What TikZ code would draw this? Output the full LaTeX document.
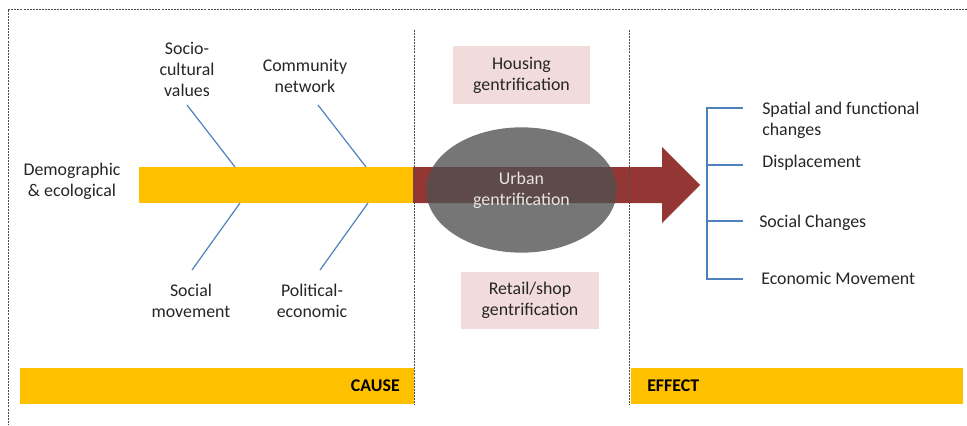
\documentclass[tikz,border=0pt]{standalone}
\usepackage{fontspec}
\setmainfont{Carlito}
\usetikzlibrary{shapes.geometric}

\definecolor{spinecol}{HTML}{FFC000}
\definecolor{arrowcol}{HTML}{943634}
\definecolor{pinkcol}{HTML}{F2DCDB}
\definecolor{bonecol}{HTML}{4F81BD}
\definecolor{txtcol}{HTML}{262626}
\definecolor{urbancol}{HTML}{505050}

\begin{document}
\begin{tikzpicture}[x=0.75pt, y=-0.75pt,
  font=\fontsize{13.4}{15.75}\selectfont,
  lbl/.style={align=center, text=txtcol, inner sep=0pt},
  eff/.style={align=left, anchor=west, text=txtcol, inner sep=0pt},
  bone/.style={draw=bonecol, line width=0.9pt},
  sep/.style={draw=gray!60!black, line width=0.6pt, dash pattern=on 1.5pt off 0.8pt},
  pinkbox/.style={fill=pinkcol, text=txtcol, align=center, inner sep=0pt,
    minimum width=103pt, minimum height=43pt},
  bar/.style={fill=spinecol, inner sep=0pt, anchor=north west, minimum height=27pt}]
\useasboundingbox (0,0) rectangle (967,425);

% spine and arrow
\fill[spinecol] (139,167) rectangle (414,203);
\fill[arrowcol] (413,167) -- (662,167) -- (662,147) -- (700,185)
  -- (662,223) -- (662,203) -- (413,203) -- cycle;

% urban gentrification
\node[ellipse, fill=urbancol, fill opacity=0.78, text opacity=1, text=gray!20,
  minimum width=143pt, minimum height=94pt, align=center, inner sep=0pt]
  (urban) at (521.5,190) {Urban\\gentrification};
\node[pinkbox] (housing) at (521.5,75) {Housing\\gentrification};
\node[pinkbox] (retail) at (530,300.5) {Retail/shop\\gentrification};

% causes
\node[lbl] (socio) at (187,69) {Socio-\\cultural\\values};
\node[lbl] (community) at (305,76) {Community\\network};
\node[lbl] (demo) at (72,181.5) {Demographic\\\& ecological};
\node[lbl] (socmove) at (191,300.5) {Social\\movement};
\node[lbl] (polit) at (312,300.5) {Political-\\economic};

\coordinate (socio end) at (187,105);
\coordinate (community end) at (318,105);
\coordinate (socmove end) at (192,270);
\coordinate (polit end) at (320,270);
\draw[bone] (socio end) -- (235,167);
\draw[bone] (community end) -- (366,167);
\draw[bone] (socmove end) -- (240,203);
\draw[bone] (polit end) -- (368,203);

% effects
\node[eff] (spatial) at (762,120.5) {Spatial and functional\\changes};
\node[eff] (displace) at (762,163) {Displacement};
\node[eff] (social) at (759,223) {Social Changes};
\node[eff] (econ) at (761,278) {Economic Movement};

\coordinate (t1) at (743,108);
\coordinate (t2) at (743,165);
\coordinate (t3) at (743,221);
\coordinate (t4) at (743,279);
\draw[bone] (t1) -- (707,108) -- (707,279) -- (t4);
\draw[bone] (707,165) -- (t2);
\draw[bone] (707,221) -- (t3);

% bottom bars
\node[bar, minimum width=295.5pt] (causebar) at (20,368) {};
\node[bar, minimum width=249pt] (effectbar) at (631,368) {};
\node[anchor=east, font=\fontsize{13.4}{15}\selectfont\bfseries, inner sep=0pt]
  (cause) at (400,386) {CAUSE};
\node[anchor=west, font=\fontsize{13.4}{15}\selectfont\bfseries, inner sep=0pt]
  (effect) at (647,386) {EFFECT};

% frame and separators
\draw[sep] (967,9) -- (8,9) -- (8,425);
\draw[sep] (414,30) -- (414,405);
\draw[sep] (629,30) -- (629,405);
\end{tikzpicture}
\end{document}
